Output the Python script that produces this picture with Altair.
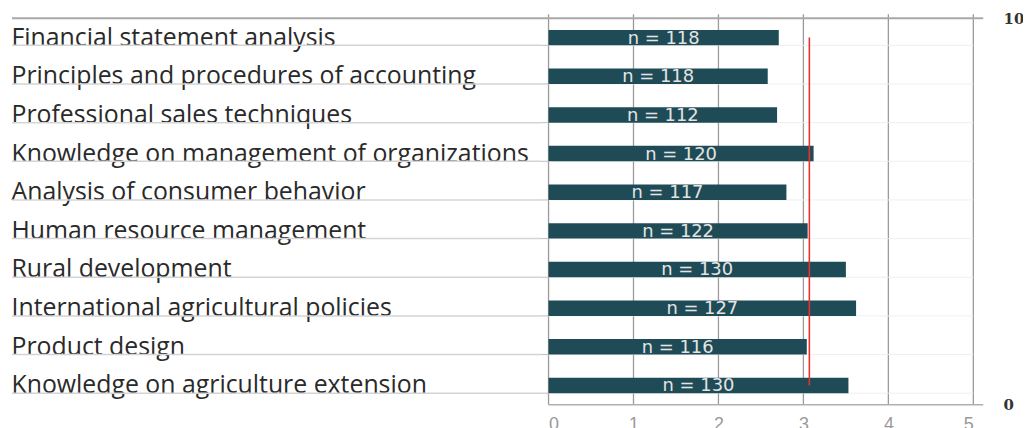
import altair as alt
import pandas as pd

skills = [
    "Financial statement analysis",
    "Principles and procedures of accounting",
    "Professional sales techniques",
    "Knowledge on management of organizations",
    "Analysis of consumer behavior",
    "Human resource management",
    "Rural development",
    "International agricultural policies",
    "Product design",
    "Knowledge on agriculture extension",
]
scores = [2.71, 2.58, 2.69, 3.12, 2.80, 3.05, 3.50, 3.62, 3.04, 3.53]
counts = [118, 118, 112, 120, 117, 122, 130, 127, 116, 130]
mean_score = 3.07
x_ticks = [0, 1, 2, 3, 4, 5]
right_ticks = [0, 10]

W = 427.5
H = 389

BAR = "#1f4b57"
GRID = "#9a9a9a"
SEP = "#d4d4d4"

df = pd.DataFrame({"skill": skills, "score": scores, "n": counts})
mean_df = pd.DataFrame({"skill": [skills[0], skills[-1]], "m": [mean_score, mean_score]})
tick_df = pd.DataFrame({"t": x_ticks})
one_df = pd.DataFrame({"a": [0]})
right_df = pd.DataFrame({"v": right_ticks})

y_axis = alt.Axis(
    title=None, orient="left", labelAlign="left", labelPadding=541, ticks=False,
    domain=False, grid=False, labelFont="Open Sans", labelFontSize=25, labelColor="#2a2a2a",
    labelLimit=700, labelBaseline="middle",
)
y_scale = alt.Scale(paddingInner=0.6, paddingOuter=0.3)
x_axis = alt.Axis(
    title=None, values=x_ticks, format="d", grid=False, ticks=False, domain=False,
    labelFont="Liberation Sans", labelFontSize=18, labelColor="#999999", labelPadding=11,
)
x_scale = alt.Scale(domain=[0, 5], nice=False, zero=True)


def Y(field, **kw):
    return alt.Y(field, type="nominal", sort=skills, scale=y_scale, axis=y_axis, **kw)


def X(field):
    return alt.X(field, type="quantitative", scale=x_scale, axis=x_axis)


grid = alt.Chart(tick_df).mark_rule(color=GRID, strokeWidth=1.3).encode(
    x=X("t"), y=alt.value(-4), y2=alt.value(H)
)

top_line = alt.Chart(one_df).mark_rule(color="#a9a9a9", strokeWidth=2).encode(
    x=alt.value(-540), x2=alt.value(W + 10), y=alt.value(0)
)
bottom_line = alt.Chart(one_df).mark_rule(color="#b0b0b0", strokeWidth=1.5).encode(
    x=alt.value(0), x2=alt.value(W + 10), y=alt.value(H)
)

sep_label = alt.Chart(df).mark_rule(color=SEP, strokeWidth=1.5).encode(
    y=Y("skill", bandPosition=1), x=alt.value(-540), x2=alt.value(-8)
)
sep_tick = alt.Chart(df).mark_rule(color="#bdbdbd", strokeWidth=1).encode(
    y=Y("skill", bandPosition=1), x=alt.value(-8), x2=alt.value(0)
)
sep_plot = alt.Chart(df).mark_rule(color="#efefef", strokeWidth=1).encode(
    y=Y("skill", bandPosition=1), x=alt.value(0), x2=alt.value(W)
)

bars = alt.Chart(df).mark_bar(color=BAR).encode(x=X("score"), y=Y("skill"))

labels = alt.Chart(df).transform_calculate(
    mid="datum.score / 2", label='"n = " + datum.n'
).mark_text(font="DejaVu Sans", fontSize=18, color="#e4e4e4", baseline="middle", dy=1).encode(
    x=X("mid"), y=Y("skill"), text="label:N"
)

mean_line = alt.Chart(mean_df).mark_line(color="#e8312f", strokeWidth=1.6).encode(
    x=X("m"), y=Y("skill")
)

inner = alt.layer(grid, sep_label, sep_tick, sep_plot, top_line, bottom_line, bars, labels, mean_line)

right = alt.Chart(right_df).mark_point(opacity=0).encode(
    x=alt.value(0),
    y=alt.Y(
        "v:Q",
        scale=alt.Scale(domain=[0, 10], nice=False),
        axis=alt.Axis(
            orient="right", values=right_ticks, title=None, domain=False, ticks=False,
            grid=False, labelPadding=30, labelFont="DejaVu Serif", labelFontWeight="bold",
            labelFontSize=15, labelColor="#333333", labelBaseline="middle", labelFlush=False,
        ),
    ),
)

chart = alt.layer(inner, right).resolve_scale(y="independent").properties(
    width=W, height=H,
    autosize=alt.AutoSizeParams(type="none"),
    padding={"left": 544, "top": 9, "right": 50, "bottom": 25},
).configure_view(stroke=None)

chart.save("out.html", embed_options={"renderer": "svg", "actions": False})
